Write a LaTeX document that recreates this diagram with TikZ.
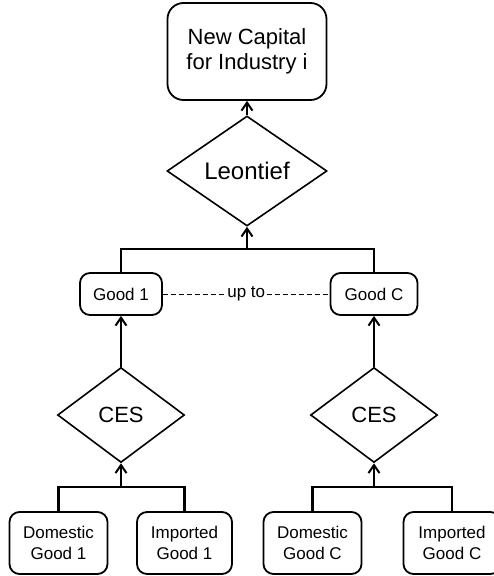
\documentclass[tikz,border=0pt]{standalone}
\usepackage{fontspec}
\setmainfont{Liberation Sans}
\usetikzlibrary{shapes.geometric,arrows.meta}

\begin{document}
\begin{tikzpicture}[x=1pt,y=-1pt,
  box/.style={draw,line width=1.8pt,rounded corners=10pt,align=center,inner sep=0pt},
  dia/.style={draw,diamond,line width=1.6pt,inner sep=0pt,aspect=1.4},
  conn/.style={line width=2.4pt},
  arr/.style={line width=2.4pt,-{Straight Barb[length=8pt,width=11pt,line width=2pt]}}]
\useasboundingbox (0,0) rectangle (494,576);

\node[box,rounded corners=16pt,minimum width=159pt,minimum height=97pt,font=\fontsize{22}{25}\selectfont] (cap) at (247,51.5) {New Capital\\for Industry i};
\node[dia,minimum width=160pt,minimum height=110pt,font=\fontsize{24}{28}\selectfont] (leo) at (247,171) {Leontief};

\node[box,minimum width=82pt,minimum height=42pt,font=\fontsize{17}{20}\selectfont] (g1) at (121,294) {Good 1};
\node[box,minimum width=87pt,minimum height=42pt,font=\fontsize{17}{20}\selectfont] (gC) at (374,294) {Good C};

\node[dia,minimum width=127pt,minimum height=95pt,font=\fontsize{22}{26}\selectfont] (ces1) at (121,415) {CES};
\node[dia,minimum width=127pt,minimum height=95pt,font=\fontsize{22}{26}\selectfont] (cesC) at (374,415) {CES};

\node[box,minimum width=98pt,minimum height=62pt,font=\fontsize{17}{21}\selectfont] (d1) at (58.5,543) {Domestic\\Good 1};
\node[box,minimum width=95pt,minimum height=62pt,font=\fontsize{17}{21}\selectfont] (i1) at (184.5,543) {Imported\\Good 1};
\node[box,minimum width=98pt,minimum height=62pt,font=\fontsize{17}{21}\selectfont] (dC) at (312.5,543) {Domestic\\Good C};
\node[box,minimum width=97pt,minimum height=62pt,font=\fontsize{17}{21}\selectfont] (iC) at (452,543) {Imported\\Good C};

\coordinate (jtop) at (247,249);
\coordinate (j1) at (121,487);
\coordinate (jC) at (374,487);

\draw[arr] (leo.north) -- (cap.south);
\draw[conn] (g1.north) -- (g1.north |- jtop) -- (gC.north |- jtop) -- (gC.north);
\draw[arr] (jtop) -- (leo.south);

\draw[dashed,line width=1pt,dash pattern=on 5pt off 3pt] (g1.east) -- (gC.west)
  node[midway,fill=white,inner sep=1pt,font=\fontsize{17}{20}\selectfont] (upto) {up to};

\draw[arr] (ces1.north) -- (g1.south);
\draw[arr] (cesC.north) -- (gC.south);

\draw[conn] (d1.north) -- (d1.north |- j1) -- (i1.north |- j1) -- (i1.north);
\draw[arr] (j1) -- (ces1.south);
\draw[conn] (dC.north) -- (dC.north |- jC) -- (iC.north |- jC) -- (iC.north);
\draw[arr] (jC) -- (cesC.south);
\end{tikzpicture}
\end{document}
